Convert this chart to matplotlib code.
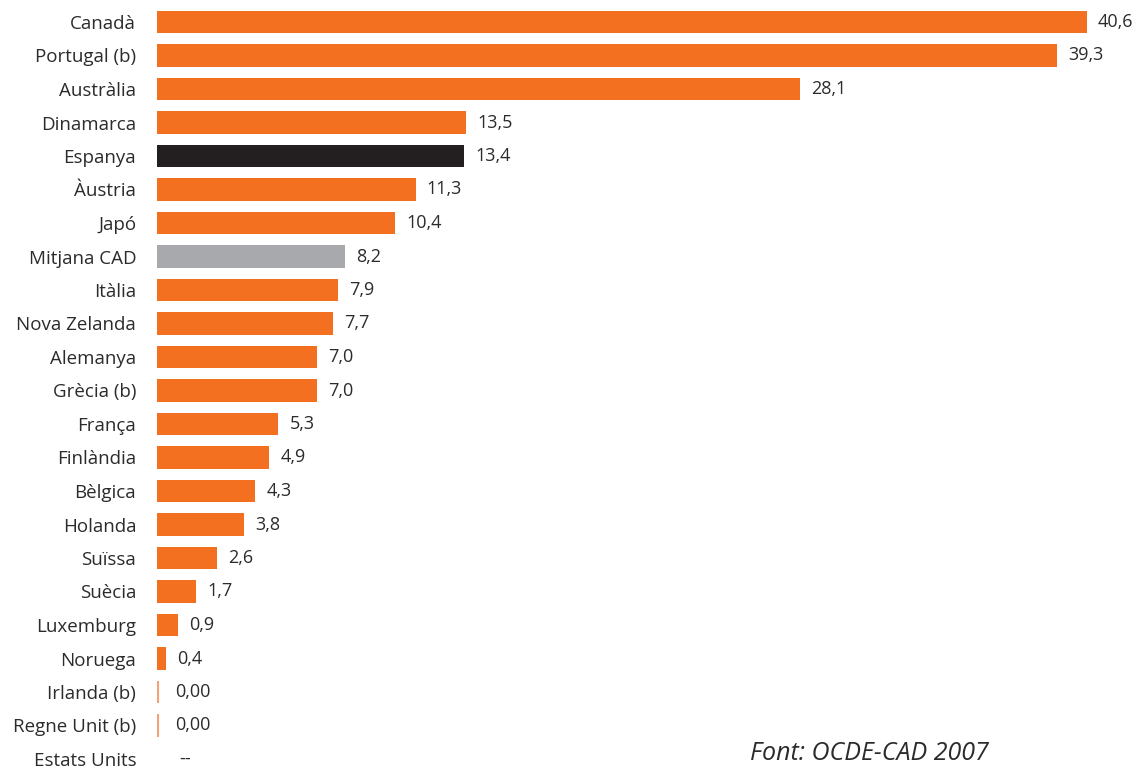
import matplotlib
matplotlib.use("Agg")
import matplotlib.pyplot as plt

countries = ["Canadà", "Portugal (b)", "Austràlia", "Dinamarca", "Espanya", "Àustria", "Japó",
             "Mitjana CAD", "Itàlia", "Nova Zelanda", "Alemanya", "Grècia (b)", "França",
             "Finlàndia", "Bèlgica", "Holanda", "Suïssa", "Suècia", "Luxemburg", "Noruega",
             "Irlanda (b)", "Regne Unit (b)", "Estats Units"]
values = [40.6, 39.3, 28.1, 13.5, 13.4, 11.3, 10.4, 8.2, 7.9, 7.7, 7.0, 7.0, 5.3, 4.9, 4.3,
          3.8, 2.6, 1.7, 0.9, 0.4, 0.0, 0.0, None]
value_labels = ["40,6", "39,3", "28,1", "13,5", "13,4", "11,3", "10,4", "8,2", "7,9", "7,7",
                "7,0", "7,0", "5,3", "4,9", "4,3", "3,8", "2,6", "1,7", "0,9", "0,4",
                "0,00", "0,00", "--"]

ORANGE = "#F37021"
LIGHT_ORANGE = "#F2A274"
BLACK = "#231F20"
GREY = "#A7A9AC"
TEXT = "#2B2B2B"

plt.rcParams['font.family'] = ['Open Sans', 'DejaVu Sans']

fig = plt.figure(figsize=(11.4, 7.7), dpi=100)
ax = fig.add_axes([157 / 1140, 0, 983 / 1140, 1])

ypos = list(range(len(countries)))
for y, name, v, lab in zip(ypos, countries, values, value_labels):
    if name == "Espanya":
        c = BLACK
    elif name.startswith("Mitjana"):
        c = GREY
    else:
        c = ORANGE
    if v is None:
        ax.annotate(lab, xy=(0, y), xytext=(16, 0), textcoords="offset points",
                    va="center", ha="left", fontsize=13, color=TEXT)
        continue
    if v == 0:
        ax.plot([0.03, 0.03], [y - 0.33, y + 0.33], color=LIGHT_ORANGE, lw=1.5,
                solid_capstyle="butt")
        ax.annotate(lab, xy=(0, y), xytext=(13, 0), textcoords="offset points",
                    va="center", ha="left", fontsize=13, color=TEXT)
    else:
        ax.barh(y, v, height=0.66, color=c, left=0)
        ax.annotate(lab, xy=(v, y), xytext=(8, 0), textcoords="offset points",
                    va="center", ha="left", fontsize=13, color=TEXT)

ax.set_yticks(ypos)
ax.set_yticklabels(countries, fontsize=13.5, color=TEXT)
ax.tick_params(axis="y", length=0, pad=15)
ax.set_xticks([])
ax.set_xlim(0, 983 / 22.9)
# y=0 at pixel 22, y=22 at pixel 759 (figure height 770)
ppu = (759 - 22) / 22
ax.set_ylim(22 + 11 / ppu, -22 / ppu)
for s in ax.spines.values():
    s.set_visible(False)

fig.text(750 / 1140, 1 - 753 / 770, "Font: OCDE-CAD 2007", fontsize=18, style="italic",
         color=TEXT, ha="left", va="center")

fig.savefig("out.png", dpi=100)
